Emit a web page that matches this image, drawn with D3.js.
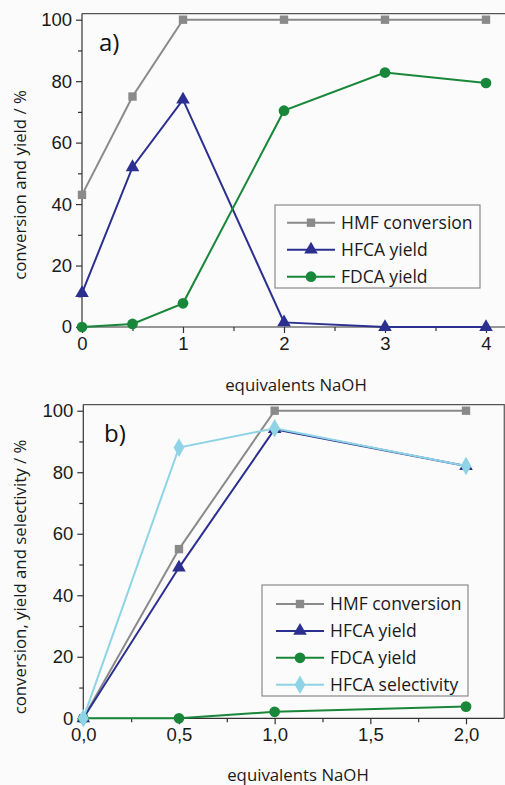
<!DOCTYPE html>
<html>
<head>
<meta charset="utf-8">
<script src="https://cdn.jsdelivr.net/npm/d3@7"></script>
<style>
  body { margin: 0; background: #fbfbfb; }
  svg { display: block; font-family: "Open Sans", sans-serif; }
  .tick text { font-size: 18.5px; fill: #1a1a1a; }
  .label { font-size: 16.8px; fill: #1a1a1a; }
  .leg { font-size: 17.5px; fill: #1a1a1a; }
</style>
</head>
<body>
<svg id="chart" width="505" height="785"></svg>
<script>
// panel a) 
const xA = [0, 0.5, 1, 2, 3, 4];
const hmfA = [43, 75, 100, 100, 100, 100];
const hfcaA = [11, 52, 74, 1.5, 0, 0];
const fdcaA = [0, 1, 7.7, 70.4, 82.8, 79.4];

// panel b)
const xB = [0, 0.5, 1, 2];
const hmfB = [0, 55, 100, 100];
const hfcaB = [0, 49, 94, 82];
const fdcaB = [0, 0, 2.1, 3.8];
const selB = [0, 88, 94.3, 82];

const yTicks = [0, 20, 40, 60, 80, 100];
const xTicksA = [0, 1, 2, 3, 4];
const xTicksB = [0, 0.5, 1, 1.5, 2];

const seriesNames = ["HMF conversion", "HFCA yield", "FDCA yield", "HFCA selectivity"];
const colours = ["#8a8a8a", "#2b2f8f", "#18873a", "#8fd4e6"];
const symbols = [d3.symbolSquare, d3.symbolTriangle, d3.symbolCircle, d3.symbolDiamond];
const symSize = [70, 80, 90, 100];

const svg = d3.select('#chart');

function drawPanel(p) {
    const x = d3.scaleLinear().domain([0, p.xMax]).range([p.left, p.right]);
    const y = d3.scaleLinear().domain([0, 100]).range([p.bottom, p.top100]);
    const g = svg.append('g');

    // frame top + right
    g.append('path')
        .attr('d', `M${x(0)},${y(102)}H${x(p.xEnd)}V${y(0)}`)
        .attr('fill', 'none')
        .attr('stroke', '#555')
        .attr('stroke-width', 1.2);

    // minor ticks
    const yMinor = d3.range(10, 101, 20);
    g.append('g')
        .attr('transform', `translate(${x(0)},0)`)
        .call(d3.axisLeft(y).tickValues(yMinor).tickSize(4).tickFormat(''))
        .call(a => a.select('.domain').remove());
    g.append('g')
        .attr('transform', `translate(0,${y(0)})`)
        .call(d3.axisBottom(x).tickValues(p.xMinor).tickSize(4).tickFormat(''))
        .call(a => a.select('.domain').remove());

    const yAxis = g.append('g')
        .attr('transform', `translate(${x(0)},0)`)
        .call(d3.axisLeft(y).tickValues(yTicks).tickSize(6).tickPadding(4).tickSizeOuter(0));
    yAxis.select('.domain').attr('d', `M0,${y(0)}V${y(102)}`);

    g.append('g')
        .attr('transform', `translate(0,${y(0)})`)
        .call(d3.axisBottom(x).tickValues(p.xTicks).tickSize(6).tickPadding(4).tickSizeOuter(0)
            .tickFormat(p.fmt))
        .call(a => a.select('.domain').attr('d', `M${x(0)},0H${x(p.xEnd)}`));

    g.selectAll('.domain, .tick line').attr('stroke', '#333').attr('stroke-width', 1.2);

    // lines + markers
    p.series.forEach((vals, i) => {
        const pts = p.xs.map((v, j) => [v, vals[j]]);
        g.append('path')
            .datum(pts)
            .attr('fill', 'none')
            .attr('stroke', colours[i])
            .attr('stroke-width', 2)
            .attr('d', d3.line().x(d => x(d[0])).y(d => y(d[1])));
        g.selectAll(null)
            .data(pts)
            .enter()
            .append('path')
            .attr('transform', d => `translate(${x(d[0])},${y(d[1])})`)
            .attr('d', d3.symbol().type(symbols[i]).size(symSize[i]))
            .attr('fill', colours[i]);
    });

    // panel letter
    g.append('text')
        .attr('x', p.letterX)
        .attr('y', p.letterY)
        .attr('font-size', 24)
        .attr('fill', '#111')
        .text(p.letter);

    // legend
    const lg = g.append('g');
    lg.append('rect')
        .attr('x', p.leg.x).attr('y', p.leg.y)
        .attr('width', p.leg.w).attr('height', p.leg.h)
        .attr('fill', '#fbfbfb')
        .attr('stroke', '#8a8a8a')
        .attr('stroke-width', 1.2);
    p.series.forEach((vals, i) => {
        const ly = p.leg.row0 + i * p.leg.step;
        lg.append('line')
            .attr('x1', p.leg.lx).attr('x2', p.leg.lx + 48)
            .attr('y1', ly).attr('y2', ly)
            .attr('stroke', colours[i]).attr('stroke-width', 2);
        lg.append('path')
            .attr('transform', `translate(${p.leg.lx + 24},${ly})`)
            .attr('d', d3.symbol().type(symbols[i]).size(symSize[i]))
            .attr('fill', colours[i]);
        lg.append('text')
            .attr('class', 'leg')
            .attr('x', p.leg.lx + 54)
            .attr('y', ly)
            .attr('dy', '0.36em')
            .text(seriesNames[i]);
    });

    // axis titles
    svg.append('text')
        .attr('class', 'label')
        .attr('x', p.xTitleX)
        .attr('y', p.xTitleY)
        .attr('text-anchor', 'middle')
        .text('equivalents NaOH');

    svg.append('text')
        .attr('class', 'label')
        .attr('transform', `translate(26,${p.yTitleY}) rotate(-90)`)
        .attr('text-anchor', 'middle')
        .text(p.yTitle);
}

drawPanel({
    xs: xA, series: [hmfA, hfcaA, fdcaA],
    xMax: 4, xEnd: 4.2, left: 82, right: 486, bottom: 327, top100: 19.7,
    xTicks: xTicksA, xMinor: [0.5, 1.5, 2.5, 3.5], fmt: d3.format('d'),
    letter: 'a)', letterX: 99, letterY: 51,
    leg: { x: 275, y: 205, w: 205, h: 83, lx: 287, row0: 222.7, step: 27 },
    xTitleX: 296, xTitleY: 391,
    yTitle: 'conversion and yield / %', yTitleY: 185
});

drawPanel({
    xs: xB, series: [hmfB, hfcaB, fdcaB, selB],
    xMax: 2, xEnd: 2.2, left: 83.3, right: 466, bottom: 718.3, top100: 410.7,
    xTicks: xTicksB, xMinor: [0.25, 0.75, 1.25, 1.75], fmt: d => d3.format('.1f')(d).replace('.', ','),
    letter: 'b)', letterX: 104, letterY: 442,
    leg: { x: 262, y: 585, w: 206, h: 111, lx: 276, row0: 604, step: 26.9 },
    xTitleX: 298, xTitleY: 781,
    yTitle: 'conversion, yield and selectivity / %', yTitleY: 577
});
</script>
</body>
</html>
